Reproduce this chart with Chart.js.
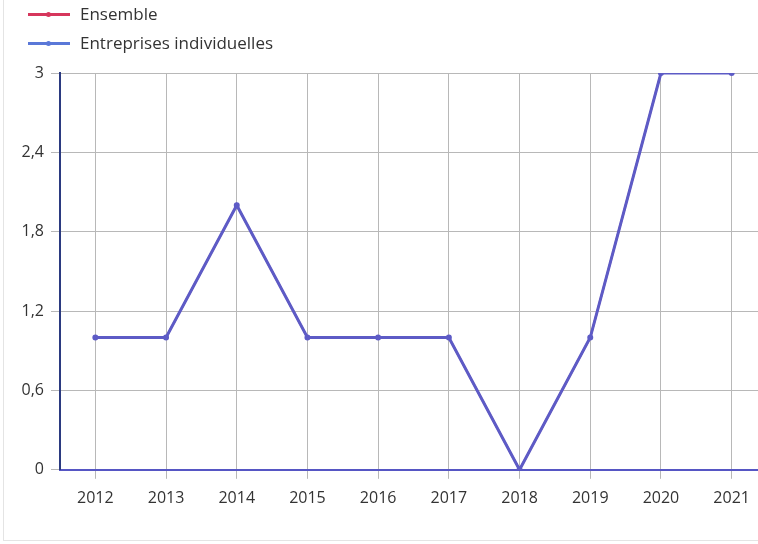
<!DOCTYPE html>
<html>
<head>
<meta charset="utf-8">
<script src="https://cdn.jsdelivr.net/npm/chart.js@4"></script>
<style>
  html, body { margin: 0; padding: 0; background: #fff; overflow: hidden; width: 758px; height: 544px; }
  #card { position: absolute; left: 3px; top: -2px; width: 800px; height: 541px; border: 1px solid #e4e4e4; }
  #chart { position: absolute; left: 0; top: 0; }
  #legend { position: absolute; left: 0; top: 0; font-family: "Open Sans", sans-serif; font-size: 17px; color: #333; }
  .item { position: absolute; left: 28px; white-space: nowrap; height: 22px; }
  .swatch { position: absolute; left: 0; top: 10px; width: 42px; height: 3px; }
  .dot { position: absolute; left: 18px; top: -1px; width: 5px; height: 5px; border-radius: 50%; }
  .label { position: absolute; left: 52px; top: 0; line-height: 22px; }
</style>
</head>
<body>
<div id="card"></div>
<canvas id="chart" width="780" height="544"></canvas>
<div id="legend"></div>
<script>
// data
const years = ["2012", "2013", "2014", "2015", "2016", "2017", "2018", "2019", "2020", "2021"];
const ensemble = [1, 1, 2, 1, 1, 1, 0, 1, 3, 3];
const entreprisesIndividuelles = [1, 1, 2, 1, 1, 1, 0, 1, 3, 3];
const seriesNames = ["Ensemble", "Entreprises individuelles"];
const seriesColors = ["#d6365c", "#5a78d8"];

// html legend, stacked like the original
const legend = document.getElementById("legend");
seriesNames.forEach((name, i) => {
  const item = document.createElement("div");
  item.className = "item";
  item.style.top = (3 + i * 29) + "px";
  item.innerHTML = `<div class="swatch" style="background:${seriesColors[i]}"><div class="dot" style="background:${seriesColors[i]}"></div></div><span class="label">${name}</span>`;
  legend.appendChild(item);
});

const fmt = v => String(Math.round(v * 10) / 10).replace(".", ",");

new Chart(document.getElementById("chart"), {
  type: "line",
  data: {
    labels: years,
    datasets: [
      {
        label: seriesNames[0],
        data: ensemble,
        borderColor: seriesColors[0],
        backgroundColor: seriesColors[0],
        borderWidth: 2,
        pointRadius: 1,
        tension: 0,
        order: 2
      },
      {
        label: seriesNames[1],
        data: entreprisesIndividuelles,
        borderColor: "#5d5bc6",
        backgroundColor: "#5d5bc6",
        borderWidth: 3,
        pointRadius: 1.5,
        tension: 0,
        order: 1
      }
    ]
  },
  options: {
    responsive: false,
    animation: false,
    layout: { padding: { top: 73, right: 13, bottom: 26, left: 0 } },
    plugins: { legend: { display: false }, tooltip: { enabled: false } },
    scales: {
      x: {
        offset: true,
        grid: { offset: false, color: "#b8b8b8", lineWidth: 1, tickLength: 9 },
        border: { color: "#5656c4", width: 2 },
        ticks: { color: "#333", padding: 10, font: { family: "Open Sans", size: 16 } }
      },
      y: {
        min: 0,
        max: 3,
        afterFit: scale => { scale.width = 60; },
        grid: { color: "#b8b8b8", lineWidth: 1, tickLength: 9 },
        border: { color: "#2b3a80", width: 2 },
        ticks: {
          stepSize: 0.6,
          color: "#333",
          padding: 7,
          font: { family: "Open Sans", size: 16 },
          callback: v => fmt(v)
        }
      }
    }
  }
});
</script>
</body>
</html>
